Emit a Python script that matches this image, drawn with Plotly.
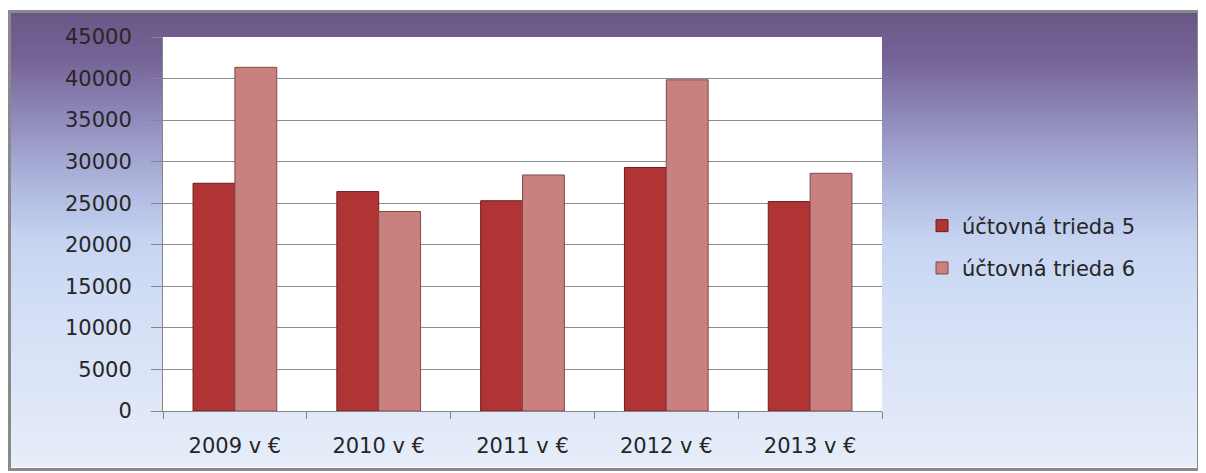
import numpy as np
import plotly.graph_objects as go

categories = ["2009 v €", "2010 v €", "2011 v €", "2012 v €", "2013 v €"]
trieda5 = [27400, 26400, 25300, 29300, 25200]
trieda6 = [41350, 24000, 28400, 39850, 28600]
series_names = ["účtovná trieda 5", "účtovná trieda 6"]
y_ticks = list(range(0, 45001, 5000))

# the page body has an 8px margin: work in window pixels and shift
OFF = 8
W, H = 1206 - OFF, 473 - OFF
L, R, T, B = 163 - OFF, 882 - OFF, 37 - OFF, 411 - OFF  # plot area


def px_x(px):
    return (px - OFF - L) / (R - L)


def px_y(py):
    return (B - (py - OFF)) / (B - T)


# background gradient (decoration)
stops_y = [11, 60, 120, 180, 240, 300, 470]
stops_c = np.array([
    (105, 87, 136), (118, 100, 150), (145, 140, 188), (172, 180, 220),
    (198, 212, 242), (210, 222, 246), (232, 238, 250)], dtype=float)

shapes = []
edges = np.arange(11, 471, 5)
for i in range(len(edges) - 1):
    y0, y1 = edges[i], min(edges[i + 1] + 1, 470)
    mid = (y0 + y1) / 2
    c = [int(np.interp(mid, stops_y, stops_c[:, k])) for k in range(3)]
    shapes.append(dict(type="rect", xref="paper", yref="paper", layer="below",
                       x0=px_x(9), x1=px_x(1199), y0=px_y(y0), y1=px_y(y1),
                       fillcolor=f"rgb({c[0]},{c[1]},{c[2]})", line=dict(width=0)))
# frame
shapes.append(dict(type="rect", xref="paper", yref="paper", layer="below",
                   x0=px_x(9.5), x1=px_x(1198.5), y0=px_y(11.5), y1=px_y(469.5),
                   fillcolor="rgba(0,0,0,0)", line=dict(color="#8a8a8a", width=3)))
# white plot area
shapes.append(dict(type="rect", xref="paper", yref="paper", layer="below",
                   x0=0, x1=1, y0=0, y1=1, fillcolor="white", line=dict(width=0)))

fig = go.Figure()
fig.add_trace(go.Bar(
    x=categories, y=trieda5, name=series_names[0], legendgroup="a",
    marker=dict(color="#b03434", line=dict(color="#6e1e1e", width=1)),
))
fig.add_trace(go.Bar(
    x=categories, y=trieda6, name=series_names[1], legendgroup="b",
    marker=dict(color="#cb8080", line=dict(color="#7e4a4a", width=1)),
))

font_family = "DejaVu Sans"
fig.update_layout(
    width=W, height=H,
    margin=dict(l=L, r=W - R, t=T, b=H - B, pad=0),
    paper_bgcolor="white",
    plot_bgcolor="rgba(0,0,0,0)",
    barmode="group",
    bargap=0.418,
    bargroupgap=0,
    shapes=shapes,
    font=dict(family=font_family, size=21, color="#262626"),
    showlegend=True,
    legend=dict(
        x=px_x(922), xanchor="left", y=px_y(247), yanchor="middle",
        font=dict(family=font_family, size=21, color="#262626"),
        bgcolor="rgba(0,0,0,0)", traceorder="grouped", tracegroupgap=12,
    ),
    xaxis=dict(
        showgrid=False, showline=True, linecolor="#868686", linewidth=1,
        ticks="outside", ticklen=7, tickcolor="#868686", tickson="boundaries",
        ticklabelstandoff=16, tickfont=dict(size=21, color="#262626"),
    ),
    yaxis=dict(
        range=[0, 45000], tickvals=y_ticks, ticktext=[str(v) for v in y_ticks],
        showgrid=True, gridcolor="#8c8c8c", gridwidth=1,
        showline=True, linecolor="#868686", linewidth=1,
        ticks="outside", ticklen=11, tickcolor="#868686",
        ticklabelstandoff=15, tickfont=dict(size=21, color="#262626"),
        zeroline=False,
    ),
)

fig.write_html("out.html")
